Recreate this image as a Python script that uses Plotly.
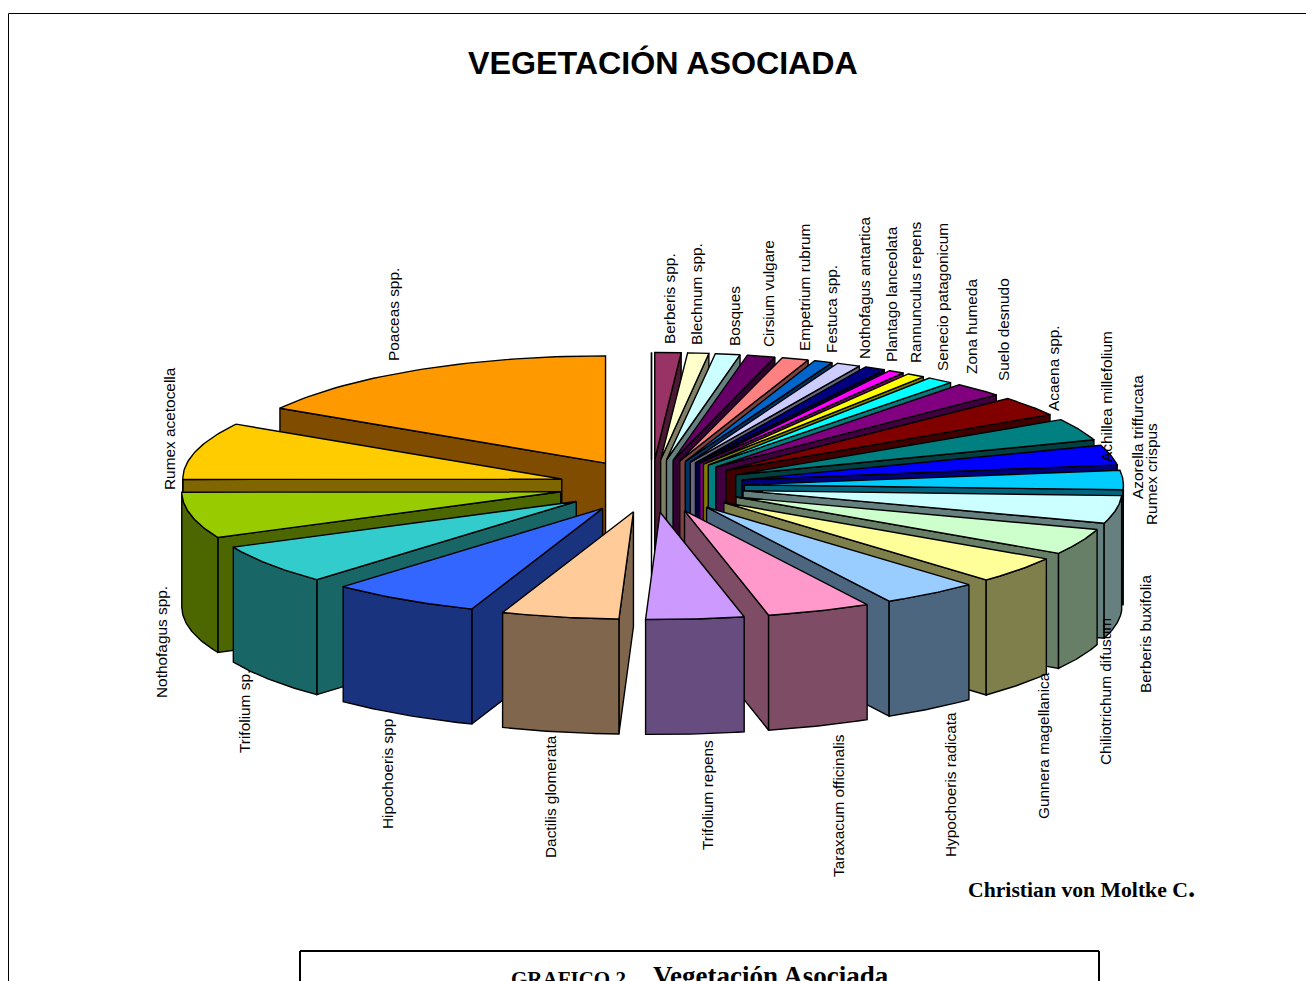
import numpy as np
import plotly.graph_objects as go

# slices clockwise from 12 o'clock, share of the pie in %
especies = ["Berberis spp.", "Blechnum spp.", "Bosques", "Cirsium vulgare", "Empetrium rubrum",
            "Festuca spp.", "Nothofagus antartica", "Plantago lanceolata", "Rannunculus repens",
            "Senecio patagonicum", "Zona humeda", "Suelo desnudo", "Acaena spp.", "Achillea millefolium",
            "Azorella triffurcata", "Rumex crispus", "Berberis buxifolia", "Chiliotrichum difusum",
            "Gunnera magellanica", "Hypochoeris radicata", "Taraxacum officinalis", "Trifolium repens",
            "Dactilis glomerata", "Hipochoeris spp", "Trifolium sp.", "Nothofagus spp.",
            "Rumex acetocella", "Poaceas spp.", ""]
valores = [1.11, 0.92, 1.08, 1.22, 1.17, 0.83, 1.03, 0.94, 0.72, 0.83, 1.19, 2.22, 3.06, 3.39,
           3.06, 2.97, 4.17, 3.89, 4.03, 4.17, 4.44, 4.17, 5.00, 6.39, 6.00, 6.94, 8.61, 16.45, 0.0]
colores = ["#993366", "#FFFFCC", "#CCFFFF", "#660066", "#FF8080", "#0066CC", "#CCCCFF", "#000080",
           "#FF00FF", "#FFFF00", "#00FFFF", "#800080", "#800000", "#008080", "#0000FF", "#00CCFF",
           "#CCFFFF", "#CCFFCC", "#FFFF99", "#99CCFF", "#FF99CC", "#CC99FF", "#FFCC99", "#3366FF",
           "#33CCCC", "#99CC00", "#FFCC00", "#FF9900", "#C0C0C0"]

# pie geometry in page pixels
CX, CY = 651.5, 486
RADIO = 379
EXPLOSION = 93
INCLINACION = 0.283
ALTO = 115

# label centres in page pixels, same order as especies
pos_etiquetas = [(669, 299), (696, 294), (734, 316), (768, 294), (804, 288), (831, 309), (864, 288),
                 (891, 294), (915, 293), (942, 297), (971, 327), (1003, 330), (1053, 368), (1106, 397),
                 (1137, 437), (1151, 474), (1145, 634), (1105, 692), (1043, 746), (950, 785),
                 (838, 806), (707, 795), (550, 797), (387, 774), (244, 712), (161, 642), (169, 429),
                 (393, 315)]


def punto(ax, ay, r, grados):
    t = np.radians(grados)
    return ax + r*np.sin(t), ay - r*np.cos(t)*INCLINACION


def oscurecer(color):
    r, g, b = [int(color[i:i+2], 16)//2 for i in (1, 3, 5)]
    return f"rgb({r},{g},{b})"


def poligono(fig, xs, ys, color):
    fig.add_trace(go.Scatter(x=xs, y=ys, mode="lines", fill="toself", fillcolor=color,
                             line=dict(color="black", width=1.4), hoverinfo="skip", showlegend=False))


def dibujar_porcion(fig, t1, t2, color):
    media = (t1 + t2)/2
    ax, ay = punto(CX, CY, EXPLOSION, media)
    oscuro = oscurecer(color)
    x1, y1 = punto(ax, ay, RADIO, t1)
    x2, y2 = punto(ax, ay, RADIO, t2)

    # radial walls, only the ones facing the viewer
    if t1 == t2 or np.sin(np.radians(t1)) < 0:
        poligono(fig, [ax, x1, x1, ax, ax], [ay, y1, y1+ALTO, ay+ALTO, ay], oscuro)
    if t1 != t2 and np.sin(np.radians(t2)) > 0:
        poligono(fig, [ax, x2, x2, ax, ax], [ay, y2, y2+ALTO, ay+ALTO, ay], oscuro)

    # outer curved wall, front half of the pie only
    a, b = max(t1, 90), min(t2, 270)
    if b > a:
        arco = np.linspace(a, b, 40)
        xs, ys = punto(ax, ay, RADIO, arco)
        poligono(fig, list(xs) + list(xs[::-1]) + [xs[0]],
                 list(ys) + list(ys[::-1] + ALTO) + [ys[0]], oscuro)

    # top face
    arco = np.linspace(t1, t2, 40)
    xs, ys = punto(ax, ay, RADIO, arco)
    poligono(fig, [ax] + list(xs) + [ax], [ay] + list(ys) + [ay], color)


fig = go.Figure()

grados = np.array(valores)/sum(valores)*360
fin = np.cumsum(grados)
inicio = fin - grados

# back slices first so the front ones paint over them
orden = sorted(range(len(valores)), key=lambda i: -np.cos(np.radians((inicio[i] + fin[i])/2)))
for i in orden:
    dibujar_porcion(fig, inicio[i], fin[i], colores[i])

for nombre, (x, y) in zip(especies, pos_etiquetas):
    fig.add_annotation(x=x, y=y, text=nombre, textangle=-90, showarrow=False,
                       font=dict(family="Liberation Sans", size=15.4, color="black"))

fig.add_annotation(x=663, y=63, text="<b>VEGETACIÓN ASOCIADA</b>", showarrow=False,
                   font=dict(family="Liberation Sans", size=32.2, color="black"))
fig.add_annotation(x=1081, y=887, showarrow=False,
                   text="<b>Christian von Moltke C<span style='font-size:29px'>.</span></b>",
                   font=dict(family="Liberation Serif", size=21.7, color="black"))
fig.add_annotation(x=568, y=979, showarrow=False, text="<b>GRAFICO 2</b>",
                   font=dict(family="Liberation Serif", size=21, color="black"))
fig.add_annotation(x=771, y=976, showarrow=False, text="<b>Vegetación Asociada</b>",
                   font=dict(family="Liberation Serif", size=27, color="black"))

# page frame and the caption box cut off at the bottom
fig.add_shape(type="line", x0=8.5, x1=8.5, y0=13.5, y1=981, line=dict(color="black", width=1))
fig.add_shape(type="line", x0=8.5, x1=1306, y0=13.5, y1=13.5, line=dict(color="black", width=1))
fig.add_shape(type="line", x0=300, x1=1099, y0=951, y1=951, line=dict(color="black", width=2))
fig.add_shape(type="line", x0=300, x1=300, y0=951, y1=981, line=dict(color="black", width=2))
fig.add_shape(type="line", x0=1099, x1=1099, y0=951, y1=981, line=dict(color="black", width=2))

fig.update_xaxes(range=[0, 1306], visible=False)
fig.update_yaxes(range=[981, 0], visible=False)
fig.update_layout(width=1306, height=981, margin=dict(l=0, r=0, t=0, b=0),
                  paper_bgcolor="white", plot_bgcolor="white")

fig.write_html("out.html", config={"displayModeBar": False},
               post_script="document.body.style.margin='0';document.documentElement.style.overflow='hidden';")
